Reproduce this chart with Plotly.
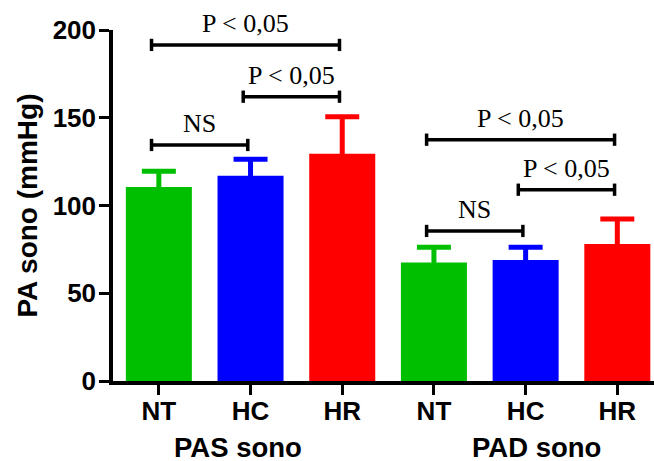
import plotly.graph_objects as go

categories = ["NT", "HC", "HR", "NT", "HC", "HR"]
means = [110.5, 117.0, 129.5, 67.5, 69.0, 78.0]
sems = [9.0, 9.3, 21.0, 8.7, 7.2, 14.3]
colors = ["#00BF00", "#0000FF", "#FF0000", "#00BF00", "#0000FF", "#FF0000"]
group_labels = ["PAS sono", "PAD sono"]
group_pos = [0.86, 4.12]
y_ticks = [0, 50, 100, 150, 200]

# comparisons: (left index, right index, y level, label)
comparisons = [
    (0, 2, 191.5, "P < 0,05"),
    (1, 2, 162.0, "P < 0,05"),
    (0, 1, 134.5, "NS"),
    (3, 5, 137.5, "P < 0,05"),
    (4, 5, 109.0, "P < 0,05"),
    (3, 4, 85.5, "NS"),
]

x = list(range(len(categories)))

fig = go.Figure()
for i in x:
    fig.add_trace(go.Bar(
        x=[i], y=[means[i]], width=0.72,
        marker=dict(color=colors[i], line=dict(width=0)),
        error_y=dict(type="data", symmetric=True, array=[sems[i]],
                     thickness=5, width=17, color=colors[i]),
        showlegend=False,
    ))

shapes = []
annotations = []
for (a, b, yv, lab) in comparisons:
    xa, xb = a - 0.08, b - 0.03
    shapes.append(dict(type="line", xref="x", yref="y", x0=xa, x1=xb, y0=yv, y1=yv,
                       line=dict(color="black", width=3.5)))
    for xe in (xa, xb):
        shapes.append(dict(type="line", xref="x", yref="y", x0=xe, x1=xe,
                           y0=yv - 3.5, y1=yv + 3.5, line=dict(color="black", width=3.5)))
    annotations.append(dict(x=(xa + xb) / 2, y=yv, xref="x", yref="y", text=lab,
                            showarrow=False, yanchor="bottom", yshift=5,
                            font=dict(family="Liberation Serif, Times New Roman", size=26,
                                      color="black")))
for gl, gp in zip(group_labels, group_pos):
    annotations.append(dict(x=gp, y=0, xref="x", yref="paper", text="<b>" + gl + "</b>",
                            showarrow=False, yanchor="middle", yshift=-66, height=26,
                            font=dict(family="Liberation Sans, Arial", size=27.5,
                                      color="black")))

fig.update_layout(
    width=654, height=461,
    margin=dict(l=113, r=0, t=30, b=80, autoexpand=False),
    paper_bgcolor="white", plot_bgcolor="white",
    barmode="overlay",
    shapes=shapes, annotations=annotations,
    font=dict(family="Liberation Sans, Arial", color="black"),
)
fig.update_xaxes(
    range=[-0.5, 5.4], tickmode="array", tickvals=x, ticktext=categories,
    showline=True, linecolor="black", linewidth=3.5,
    ticks="outside", ticklen=10, tickwidth=3, tickcolor="black",
    showgrid=False, zeroline=False, automargin=False,
    ticklabelstandoff=-6,
    tickfont=dict(size=26, weight="bold", family="Liberation Sans, Arial"),
)
fig.update_yaxes(
    range=[0, 200], tickvals=y_ticks,
    showline=True, linecolor="black", linewidth=3.5,
    ticks="outside", ticklen=10, tickwidth=3, tickcolor="black",
    showgrid=False, zeroline=False, automargin=False,
    ticklabelstandoff=-2,
    tickfont=dict(size=26, weight="bold", family="Liberation Sans, Arial"),
    title=dict(text="PA sono (mmHg)", standoff=8,
               font=dict(size=28, weight="bold", family="Liberation Sans, Arial")),
)

fig.write_html("out.html", config={"displayModeBar": False},
               post_script="document.body.style.margin='0px';document.body.style.overflow='hidden';")
